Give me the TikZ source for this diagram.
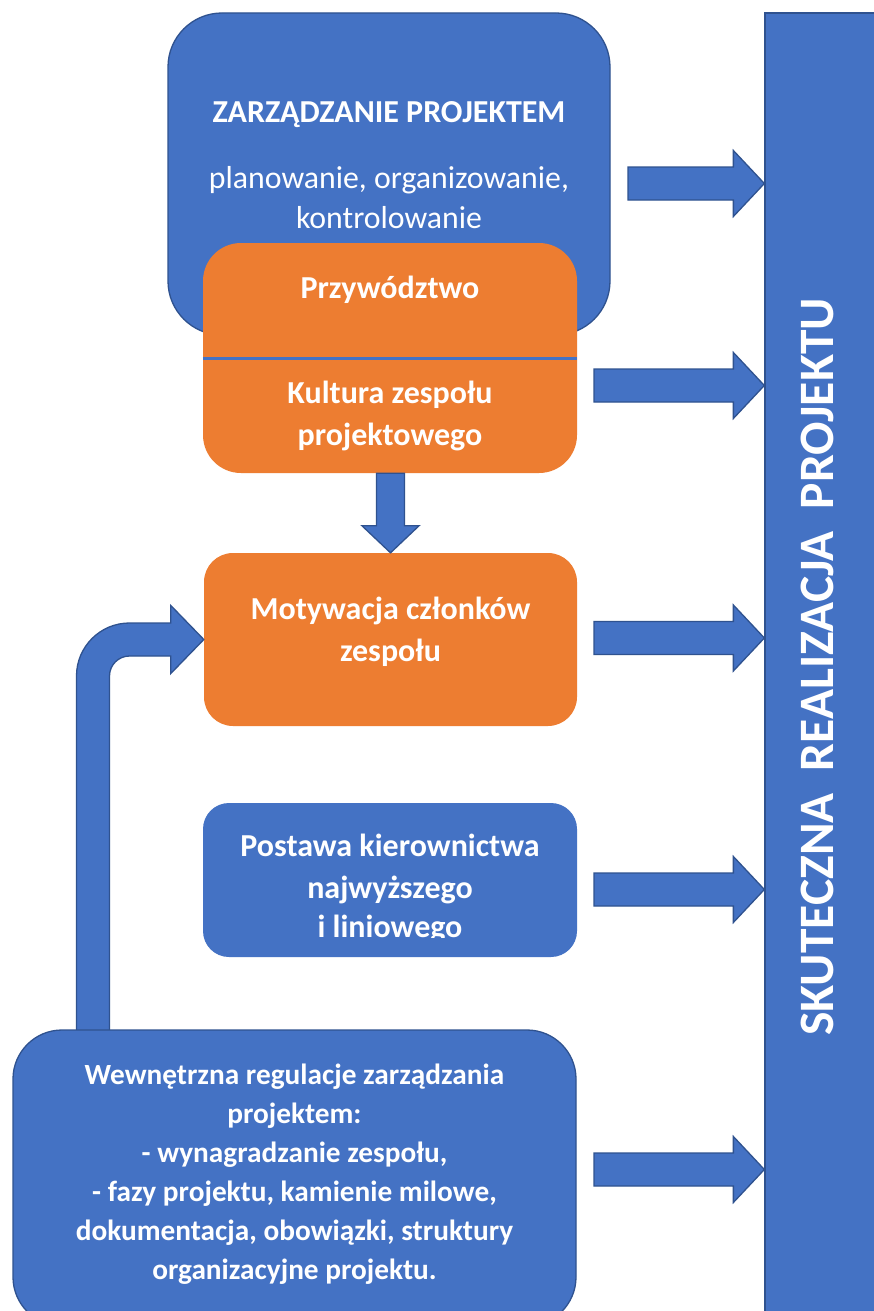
\documentclass[tikz,border=0pt]{standalone}
\usepackage{fontspec}
\setmainfont{Carlito}
\usetikzlibrary{calc}

\definecolor{boxblue}{HTML}{4472C4}
\definecolor{edgeblue}{HTML}{2F528F}
\definecolor{boxorange}{HTML}{ED7D31}

\tikzset{
  bluebox/.style={draw=edgeblue, line width=1.3pt, fill=boxblue, rounded corners=#1, inner sep=0pt},
  plainblue/.style={fill=boxblue, rounded corners=#1, inner sep=0pt},
  orangebox/.style={fill=boxorange, rounded corners=#1, inner sep=0pt},
  barbox/.style={draw=edgeblue, line width=1.3pt, fill=boxblue, inner sep=0pt},
  arrowshape/.style={draw=edgeblue, line width=1.3pt, fill=boxblue, line join=miter},
  txt/.style={text=white, font=\fontsize{32}{42}\selectfont\bfseries, align=center, inner sep=0pt},
  txtreg/.style={text=white, font=\fontsize{31.8}{40}\selectfont, align=center, inner sep=0pt},
  txtsmall/.style={text=white, font=\fontsize{29.3}{39}\selectfont\bfseries, align=center, inner sep=0pt},
  bartxt/.style={text=white, font=\fontsize{49.5}{52}\selectfont\bfseries, rotate=90, inner sep=0pt},
}

% horizontal block arrow: shaft start, tip
\newcommand\blockR[2]{%
  \draw[arrowshape] let \p1=#1, \p2=#2 in
    (\x1,\y2+16.5pt) -- (\x2-31pt,\y2+16.5pt) -- (\x2-31pt,\y2+33pt) -- (\x2,\y2)
    -- (\x2-31pt,\y2-33pt) -- (\x2-31pt,\y2-16.5pt) -- (\x1,\y2-16.5pt) -- cycle;}

% vertical block arrow pointing down: shaft start, tip
\newcommand\blockD[2]{%
  \draw[arrowshape] let \p1=#1, \p2=#2 in
    (\x2-14pt,\y1) -- (\x2-14pt,\y2+27pt) -- (\x2-28.5pt,\y2+27pt) -- (\x2,\y2)
    -- (\x2+28.5pt,\y2+27pt) -- (\x2+14pt,\y2+27pt) -- (\x2+14pt,\y1) -- cycle;}

\begin{document}
\begin{tikzpicture}[x=1pt, y=-1pt]
  \clip (0,0) rectangle (874,1311);
  \fill[white] (0,0) rectangle (874,1311);

  % result bar on the right
  \node[barbox, minimum width=115pt, minimum height=1307pt] (bar) at (822.5,666.5) {};
  \node[bartxt] (bartext) at (817,667) {SKUTECZNA\hspace{22pt}REALIZACJA\hspace{22pt}PROJEKTU};

  % project management box
  \node[bluebox=54pt, minimum width=442pt, minimum height=322pt] (top) at (389,174) {};
  \node[txt] (toptitle) at (389,115) {ZARZĄDZANIE PROJEKTEM};
  \node[txtreg] (topsub) at (389,198) {planowanie, organizowanie,\\kontrolowanie};

  % leadership / team culture
  \node[orangebox=38pt, minimum width=374pt, minimum height=230pt] (lead) at (390,358) {};
  \draw[boxblue, line width=3pt] (lead.west) -- (lead.east);
  \node[txt] (leadtop) at (390,290) {Przywództwo};
  \node[txt] (leadbot) at (390,416) {Kultura zespołu\\projektowego};

  % motivation
  \node[orangebox=29pt, minimum width=373pt, minimum height=173pt] (motyw) at (390.5,639.5) {};
  \node[txt] (motywtxt) at (390.5,632) {Motywacja członków\\zespołu};

  % management attitude
  \node[plainblue=26pt, minimum width=374pt, minimum height=154pt] (postawa) at (390,880) {};
  \begin{scope}
    \clip (203,803) rectangle (577,937);
    \node[txt] (postawatxt) at (390,888) {Postawa kierownictwa\\najwyższego\\[-3pt]i liniowego};
  \end{scope}

  % bent arrow from internal regulations to motivation
  \coordinate (bentfoot) at (93,1031);
  \draw[arrowshape] let \p1=(bentfoot), \p2=(motyw.west) in
    (\x1-16.5pt,\y1) -- (\x1-16.5pt,\y2+16.5pt-53pt)
    arc[start angle=180, end angle=90, radius=53pt]
    -- (\x2-33pt,\y2+16.5pt) -- (\x2-33pt,\y2+34pt) -- (\x2,\y2)
    -- (\x2-33pt,\y2-34pt) -- (\x2-33pt,\y2-16.5pt) -- (\x1+36.5pt,\y2-16.5pt)
    arc[start angle=90, end angle=180, radius=20pt]
    -- (\x1+16.5pt,\y1) -- cycle;

  % internal regulations
  \node[bluebox=49pt, minimum width=563pt, minimum height=296pt] (regul) at (294.5,1178) {};
  \node[txtsmall] (regultxt) at (294.5,1174) {Wewnętrzna regulacje zarządzania\\projektem:\\- wynagradzanie zespołu,\\- fazy projektu, kamienie milowe,\\dokumentacja, obowiązki, struktury\\organizacyjne projektu.};

  % arrow from leadership to motivation
  \blockD{(lead.south)}{(motyw.north)}

  % arrows into the result bar
  \coordinate (a1s) at (628,183.5);
  \coordinate (a2s) at (594,385.5);
  \coordinate (a3s) at (594,638);
  \coordinate (a4s) at (594,889.5);
  \coordinate (a5s) at (594,1169.5);
  \blockR{(a1s)}{(bar.west |- a1s)}
  \blockR{(a2s)}{(bar.west |- a2s)}
  \blockR{(a3s)}{(bar.west |- a3s)}
  \blockR{(a4s)}{(bar.west |- a4s)}
  \blockR{(a5s)}{(bar.west |- a5s)}
\end{tikzpicture}
\end{document}
